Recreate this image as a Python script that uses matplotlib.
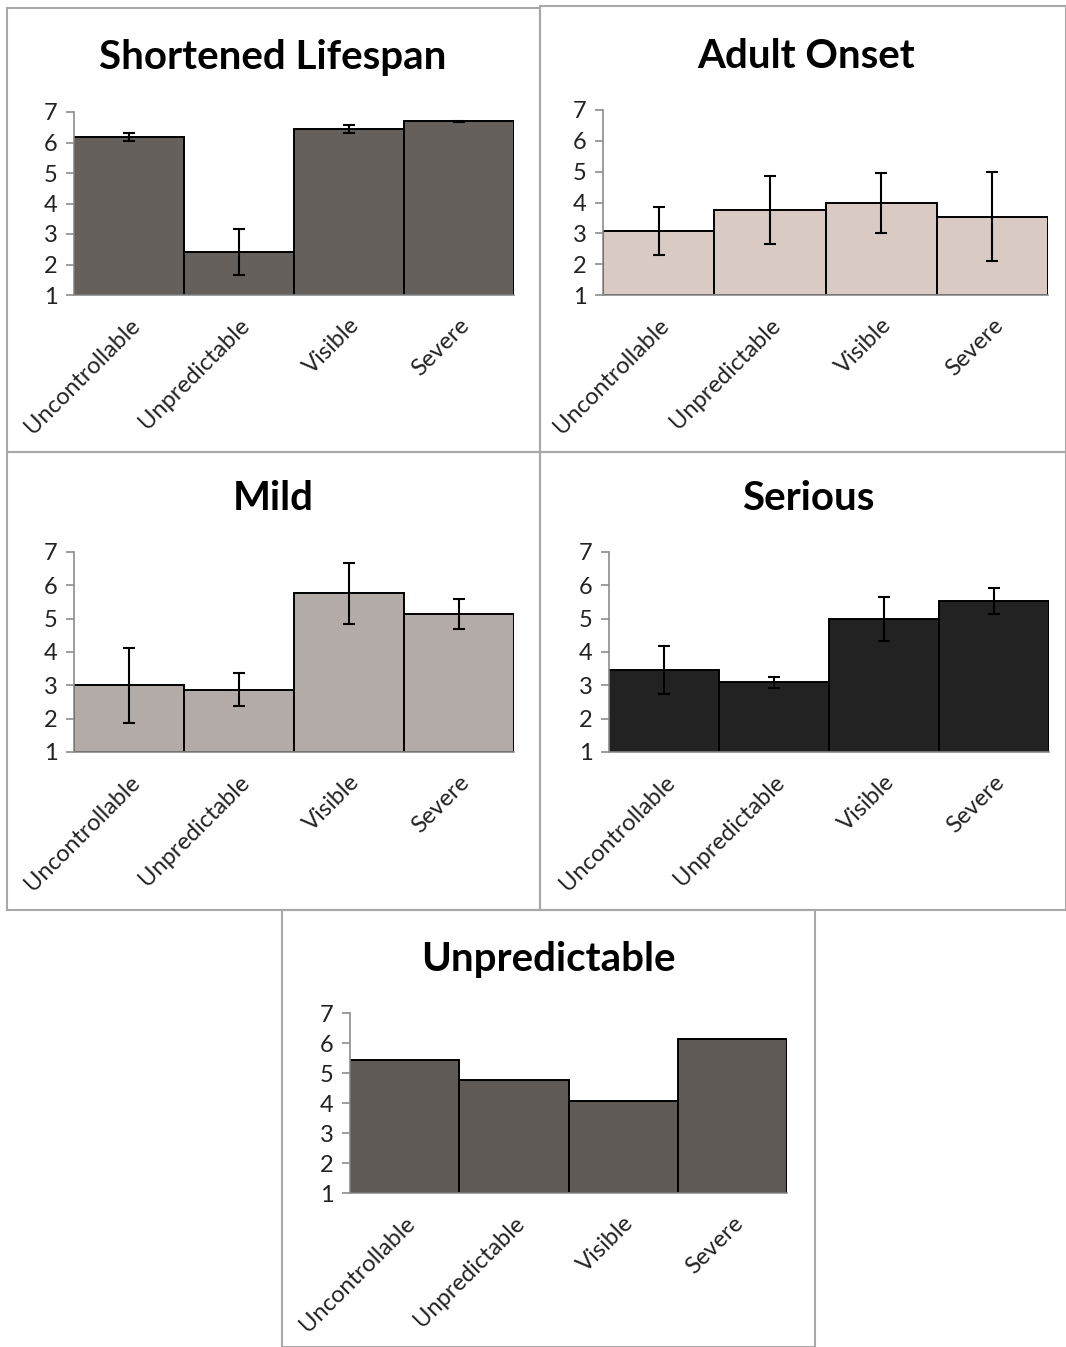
import matplotlib.pyplot as plt
from matplotlib.patches import Rectangle
import numpy as np

plt.rcParams['font.family'] = ['Lato', 'DejaVu Sans']

categories = ["Uncontrollable", "Unpredictable", "Visible", "Severe"]

# means and error bar half-widths
lifespan_vals = [6.18, 2.41, 6.43, 6.70]
lifespan_err = [0.12, 0.75, 0.13, 0.02]

onset_vals = [3.08, 3.76, 3.99, 3.54]
onset_err = [0.79, 1.10, 0.98, 1.45]

mild_vals = [3.00, 2.87, 5.76, 5.15]
mild_err = [1.13, 0.50, 0.92, 0.45]

serious_vals = [3.47, 3.09, 5.00, 5.53]
serious_err = [0.72, 0.17, 0.66, 0.38]

unpred_vals = [5.43, 4.76, 4.07, 6.13]

W, H = 1066, 1347
fig = plt.figure(figsize=(W / 100, H / 100), dpi=100)


def px_axes(x0, x1, ytop, ybot):
    """axes rectangle given in pixel coords of the picture"""
    return fig.add_axes([x0 / W, 1 - ybot / H, (x1 - x0) / W, (ybot - ytop) / H])


def panel_box(x0, y0, x1, y1):
    fig.add_artist(Rectangle((x0 / W, 1 - y1 / H), (x1 - x0) / W, (y1 - y0) / H,
                             transform=fig.transFigure, fill=False,
                             edgecolor='#a8a8a8', linewidth=1.5))


def bar_panel(ax, vals, err, color, title, title_xy):
    x = np.arange(len(categories))
    ax.bar(x, np.array(vals) - 1, width=1.0, bottom=1, color=color,
           edgecolor='black', linewidth=1.4, zorder=2)
    if err is not None:
        ax.errorbar(x, vals, yerr=err, fmt='none', ecolor='black',
                    elinewidth=1.5, capsize=4, capthick=1.5, zorder=3)
    ax.set_xlim(-0.5, len(categories) - 0.5)
    ax.set_ylim(1, 7)
    ax.set_yticks(range(1, 8))
    ax.set_xticks(x)
    ax.set_xticklabels(categories, rotation=45, ha='right', va='top',
                       rotation_mode='anchor', fontsize=17, color='#222222')
    ax.tick_params(axis='y', labelsize=17, labelcolor='#222222', color='#8c8c8c',
                   length=6, width=1.2, pad=6)
    ax.tick_params(axis='x', length=0, pad=14)
    for side in ['top', 'right']:
        ax.spines[side].set_visible(False)
    for side in ['left', 'bottom']:
        ax.spines[side].set_color('#8c8c8c')
        ax.spines[side].set_linewidth(1.2)
    ax.patch.set_visible(False)
    fig.text(title_xy[0] / W, 1 - title_xy[1] / H, title, ha='center', va='center',
             fontsize=29, fontweight='bold', color='black')


# panel borders
panel_box(7, 8, 540, 452)
panel_box(540, 6, 1066, 452)
panel_box(7, 452, 540, 910)
panel_box(540, 452, 1066, 910)
panel_box(282, 910, 815, 1347)

ax1 = px_axes(74, 514, 112, 295)
bar_panel(ax1, lifespan_vals, lifespan_err, '#66605c', "Shortened Lifespan", (273, 58))

ax2 = px_axes(603, 1048, 110, 295)
bar_panel(ax2, onset_vals, onset_err, '#d9cac4', "Adult Onset", (806, 56))

ax3 = px_axes(74, 514, 552, 752)
bar_panel(ax3, mild_vals, mild_err, '#b3aba8', "Mild", (273, 498))

ax4 = px_axes(609, 1049, 552, 752)
bar_panel(ax4, serious_vals, serious_err, '#222222', "Serious", (808, 498))

ax5 = px_axes(350, 787, 1013, 1193)
bar_panel(ax5, unpred_vals, None, '#5f5a56', "Unpredictable", (548, 959))

fig.savefig("out.png", dpi=100)
